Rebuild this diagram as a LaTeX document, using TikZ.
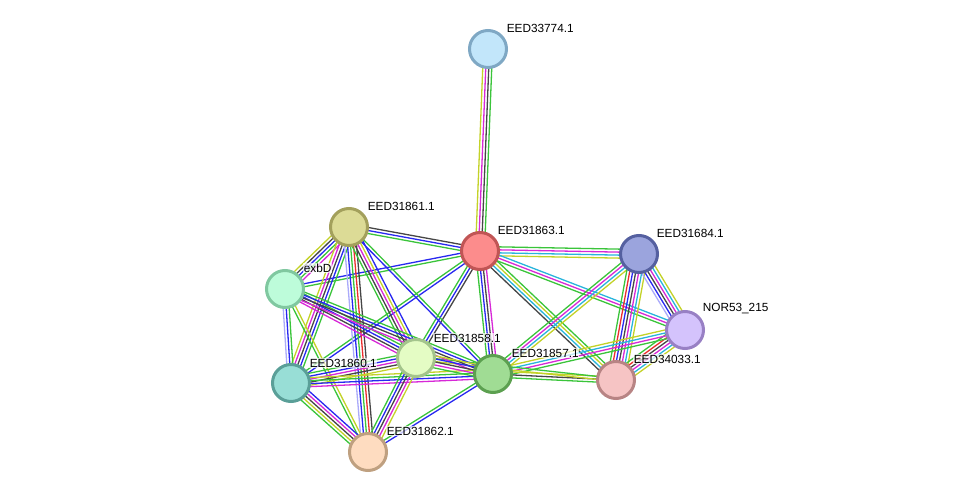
\documentclass[tikz,border=0pt]{standalone}
\usepackage{fontspec}
\setmainfont{Liberation Sans}
\usepackage{tikz}
\usetikzlibrary{calc,backgrounds}

% evidence channel colours
\definecolor{neighc}{RGB}{58,196,58}
\definecolor{fusionc}{RGB}{235,45,45}
\definecolor{coocc}{RGB}{40,40,240}
\definecolor{coexpc}{RGB}{70,70,70}
\definecolor{exptc}{RGB}{215,40,215}
\definecolor{dbasec}{RGB}{40,180,220}
\definecolor{txtmc}{RGB}{195,210,40}
\definecolor{homolc}{RGB}{170,170,250}

\tikzset{
  chan/.style={line width=1.3pt},
  neigh/.style={chan, draw=neighc},
  fusion/.style={chan, draw=fusionc},
  cooc/.style={chan, draw=coocc},
  coexp/.style={chan, draw=coexpc},
  expt/.style={chan, draw=exptc},
  dbase/.style={chan, draw=dbasec},
  txtm/.style={chan, draw=txtmc},
  homol/.style={chan, draw=homolc},
  prot/.style={circle, minimum size=37pt, inner sep=0pt, line width=3pt},
  lbl/.style={anchor=west, font=\fontsize{11.8}{13}\selectfont, fill=white,
    fill opacity=0.7, text opacity=1, inner sep=0.6pt}
}

% one edge = a bundle of parallel coloured lines, one per channel
\newcommand{\link}[3]{%
  \gdef\nlines{0}%
  \foreach \c in {#3}{\xdef\nlines{\the\numexpr\nlines+1\relax}}%
  \foreach \c [count=\i] in {#3}{%
    \pgfmathsetmacro{\off}{(\i-(\nlines+1)/2)*3}%
    \draw[\c] ($(#1)!\off pt!90:(#2)$) -- ($(#2)!\off pt!-90:(#1)$);
  }%
}

\begin{document}
\begin{tikzpicture}[x=1pt, y=1pt]
  \useasboundingbox (0,0) rectangle (975,498);

  % proteins
  \node[prot, fill={rgb,255:red,194;green,230;blue,250}, draw={rgb,255:red,127;green,168;blue,196}] (n74) at (488,449) {};
  \node[prot, fill={rgb,255:red,220;green,219;blue,150}, draw={rgb,255:red,163;green,160;blue,92}] (n61) at (349,271) {};
  \node[prot, fill={rgb,255:red,252;green,140;blue,140}, draw={rgb,255:red,192;green,85;blue,85}] (n63) at (480,247) {};
  \node[prot, fill={rgb,255:red,155;green,164;blue,221}, draw={rgb,255:red,85;green,96;blue,160}] (n84) at (639,244) {};
  \node[prot, fill={rgb,255:red,189;green,252;blue,218}, draw={rgb,255:red,128;green,200;blue,160}] (nexb) at (285,209) {};
  \node[prot, fill={rgb,255:red,212;green,195;blue,252}, draw={rgb,255:red,152;green,128;blue,196}] (nnor) at (685,168) {};
  \node[prot, fill={rgb,255:red,228;green,252;blue,196}, draw={rgb,255:red,164;green,196;blue,140}] (n58) at (416,140) {};
  \node[prot, fill={rgb,255:red,160;green,220;blue,148}, draw={rgb,255:red,92;green,160;blue,80}] (n57) at (493,124) {};
  \node[prot, fill={rgb,255:red,152;green,222;blue,214}, draw={rgb,255:red,90;green,159;blue,152}] (n60) at (291,115) {};
  \node[prot, fill={rgb,255:red,246;green,196;blue,196}, draw={rgb,255:red,184;green,132;blue,132}] (n33) at (616,118) {};
  \node[prot, fill={rgb,255:red,254;green,220;blue,192}, draw={rgb,255:red,191;green,160;blue,128}] (n62) at (368,46) {};

  % labels
  \node[lbl] (l74) at ($(n74)+(18,21)$) {EED33774.1};
  \node[lbl] (l61) at ($(n61)+(18,21)$) {EED31861.1};
  \node[lbl] (l63) at ($(n63)+(17,21)$) {EED31863.1};
  \node[lbl] (l84) at ($(n84)+(17,21)$) {EED31684.1};
  \node[lbl] (lexb) at ($(nexb)+(18,21)$) {exbD};
  \node[lbl] (lnor) at ($(nnor)+(17,21)$) {NOR53\_215};
  \node[lbl] (l58) at ($(n58)+(17,20)$) {EED31858.1};
  \node[lbl] (l57) at ($(n57)+(18,21)$) {EED31857.1};
  \node[lbl] (l60) at ($(n60)+(18,20)$) {EED31860.1};
  \node[lbl] (l33) at ($(n33)+(17,21)$) {EED34033.1};
  \node[lbl] (l62) at ($(n62)+(18,21)$) {EED31862.1};

  % edges under the nodes
  \begin{pgfonlayer}{background}
    \link{n74}{n63}{txtm,expt,coexp,neigh}
    \link{n61}{n63}{neigh,cooc,coexp}
    \link{nexb}{n63}{neigh,cooc}
    \link{n63}{n84}{txtm,dbase,expt,neigh}
    \link{n63}{nnor}{neigh,expt,dbase}
    \link{n63}{n33}{coexp,dbase,txtm,neigh}
    \link{n63}{n57}{neigh,cooc,coexp,expt}
    \link{n63}{n58}{neigh,cooc,coexp}
    \link{n63}{n60}{neigh,cooc}
    \link{n84}{n57}{neigh,expt,dbase,txtm}
    \link{n84}{n33}{neigh,fusion,cooc,coexp,expt,dbase,txtm}
    \link{n84}{nnor}{homol,cooc,coexp,expt,dbase,txtm}
    \link{nnor}{n33}{neigh,fusion,coexp,expt,dbase,txtm}
    \link{nnor}{n57}{txtm,dbase,expt,neigh}
    \link{n57}{n33}{neigh,coexp,txtm}
    \link{n58}{n33}{txtm,neigh}
    \link{n61}{nexb}{txtm,coexp,cooc,neigh,expt}
    \link{n61}{n60}{txtm,expt,coexp,cooc,neigh}
    \link{n61}{n62}{homol,cooc,neigh,fusion,coexp}
    \link{n61}{n58}{neigh,coexp,expt,txtm,cooc}
    \link{n61}{n57}{cooc,neigh}
    \link{nexb}{n60}{homol,cooc,neigh}
    \link{nexb}{n58}{expt,coexp,cooc,neigh}
    \link{nexb}{n57}{expt,coexp,cooc,neigh}
    \link{nexb}{n62}{neigh,txtm}
    \link{n60}{n58}{txtm,coexp,expt,cooc,neigh}
    \link{n60}{n57}{expt,cooc,neigh,txtm}
    \link{n60}{n62}{neigh,txtm,coexp,expt,cooc}
    \link{n58}{n62}{neigh,cooc,coexp,expt,txtm}
    \link{n58}{n57}{neigh,expt,coexp,cooc,txtm}
    \link{n57}{n62}{neigh,cooc}
  \end{pgfonlayer}
\end{tikzpicture}
\end{document}
